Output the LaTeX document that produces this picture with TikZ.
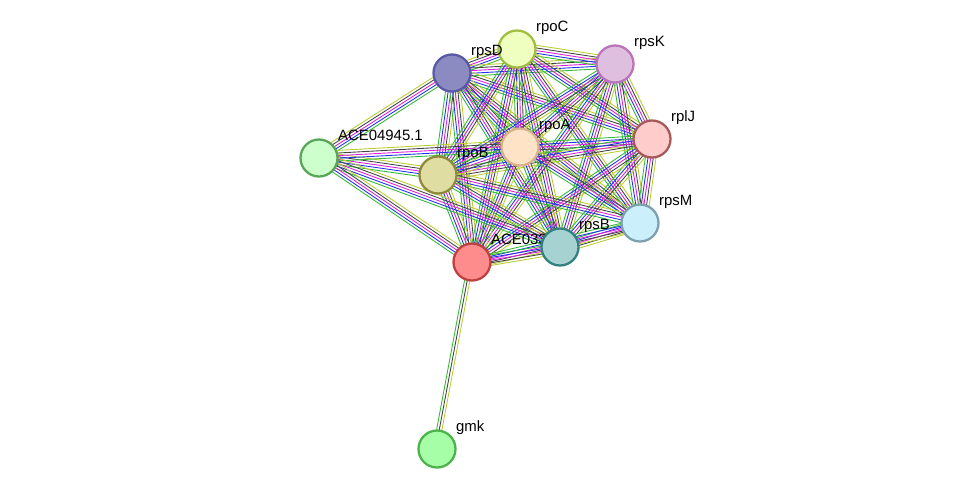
\documentclass[tikz,border=0pt]{standalone}
\usepackage{fontspec}
\setmainfont{Liberation Sans}
\usetikzlibrary{calc}
\definecolor{eGreen}{HTML}{33BB33}
\definecolor{eBlue}{HTML}{2233EE}
\definecolor{eMag}{HTML}{DD22DD}
\definecolor{eGray}{HTML}{444444}
\definecolor{eYel}{HTML}{BBCC33}
\tikzset{
  prot/.style={circle, minimum size=0.74cm, line width=1.3pt, inner sep=0pt},
  lbl/.style={font=\fontsize{8.5}{9}\selectfont, inner sep=1pt}
}
\newcommand{\bundle}[3]{% from, to, colours
  \foreach \c [count=\i] in {#3}
    \draw[\c, line width=0.5pt]
      ($(#1)!{(\i-2.5)*1.5pt}!90:(#2)$) -- ($(#2)!{(\i-2.5)*1.5pt}!-90:(#1)$);
}
\begin{document}
\begin{tikzpicture}[x=0.02cm,y=-0.02cm]
\useasboundingbox (0,0) rectangle (976,495);
% positions
\coordinate (pD) at (452,73);
\coordinate (pC) at (517,49);
\coordinate (pK) at (615,64);
\coordinate (pJ) at (652,139);
\coordinate (pA) at (520,147);
\coordinate (pB) at (438,175);
\coordinate (pE) at (319,158);
\coordinate (pM) at (640,223);
\coordinate (pS) at (560,247);
\coordinate (pX) at (472,262);
\coordinate (pG) at (437,449);
% edges inside the cluster
\foreach \a/\b in {pD/pC,pD/pK,pD/pJ,pD/pA,pD/pB,pD/pM,pD/pS,pD/pX,
  pC/pK,pC/pJ,pC/pA,pC/pB,pC/pM,pC/pS,pC/pX,
  pK/pJ,pK/pA,pK/pB,pK/pM,pK/pS,pK/pX,
  pJ/pA,pJ/pB,pJ/pM,pJ/pS,pJ/pX,
  pA/pB,pA/pM,pA/pS,pA/pX,
  pB/pM,pB/pS,pB/pX,
  pM/pS,pM/pX,pS/pX}
  {\bundle{\a}{\b}{eGreen,eBlue,eMag,eGray,eYel}}
\foreach \b in {pD,pB,pA,pS,pX}
  {\bundle{pE}{\b}{eGreen,eBlue,eMag,eGray,eYel}}
\bundle{pX}{pG}{eGreen,eGray,eYel}
% proteins
\node[prot, fill=blue!30!gray!70!white, draw=blue!30!gray] (rpsD) at (pD) {};
\node[prot, fill=lime!25!white, draw=lime!50!gray] (rpoC) at (pC) {};
\node[prot, fill=violet!25!white, draw=violet!55!white] (rpsK) at (pK) {};
\node[prot, fill=red!20!white, draw=red!30!gray] (rplJ) at (pJ) {};
\node[prot, fill=orange!22!white, draw=brown!60!white] (rpoA) at (pA) {};
\node[prot, fill=yellow!50!gray!55!white, draw=olive!60!gray] (rpoB) at (pB) {};
\node[prot, fill=green!20!white, draw=green!30!gray] (ace4945) at (pE) {};
\node[prot, fill=cyan!20!white, draw=cyan!30!gray] (rpsM) at (pM) {};
\node[prot, fill=red!45!white, draw=red!50!gray] (ace0337) at (pX) {};
\node[lbl, anchor=base west] at ($(pX)+(17,-18)$) {ACE0337};
\node[prot, fill=teal!35!white, draw=teal!60!gray] (rpsB) at (pS) {};
\node[prot, fill=green!35!white, draw=green!40!gray] (gmk) at (pG) {};
% labels
\foreach \n/\t in {rpsD/rpsD,rpoC/rpoC,rpsK/rpsK,rplJ/rplJ,rpoA/rpoA,rpoB/rpoB,
  ace4945/ACE04945.1,rpsM/rpsM,rpsB/rpsB,gmk/gmk}
  \node[lbl, anchor=base west] at ($(\n.center)+(17,-18)$) {\t};
\end{tikzpicture}
\end{document}
